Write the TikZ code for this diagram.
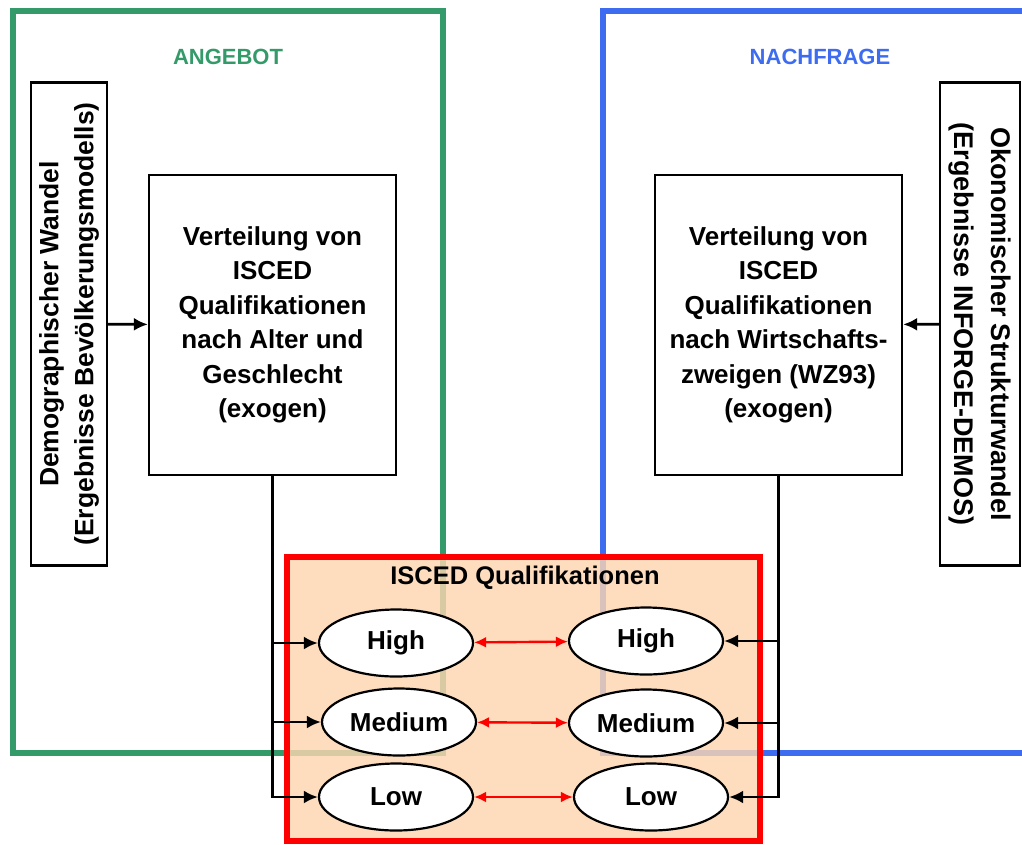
\documentclass[tikz,border=0pt]{standalone}
\usepackage{fontspec}
\setmainfont{Liberation Sans}
\usetikzlibrary{arrows.meta,shapes.geometric,calc}
\definecolor{angebot}{RGB}{53,154,106}
\definecolor{nachfrage}{RGB}{61,108,240}
\definecolor{qualfill}{RGB}{252,214,176}

\begin{document}
\begin{tikzpicture}[x=1pt,y=-1pt,
	box/.style={draw,line width=2.2pt,align=center,inner sep=0pt,font=\fontsize{26}{34.5}\selectfont\bfseries},
	qual/.style={ellipse,draw,line width=2.2pt,fill=white,minimum width=154pt,minimum height=67pt,inner sep=0pt,font=\fontsize{26}{30}\selectfont\bfseries},
	arr/.style={line width=2.8pt,-{Latex[length=14pt,width=13pt]}},
	redarr/.style={red,line width=2.4pt,{Latex[length=12pt,width=11pt]}-{Latex[length=12pt,width=11pt]}},
	title/.style={font=\fontsize{22}{26}\selectfont\bfseries}] %Angebot und Nachfrage
		\useasboundingbox (0,0) rectangle (1022,844);
		\draw[angebot,line width=6.5pt] (13,11) rectangle (443,753);
		\draw[nachfrage,line width=6.5pt] (1040,11) -- (603,11) -- (603,753) -- (1040,753);
		\node[title,text=angebot] (angebot) at (228,57) {ANGEBOT};
		\node[title,text=nachfrage] (nachfrage) at (820,57) {NACHFRAGE};
		% Treiber
		\node[box,rotate=90,minimum width=483pt,minimum height=76pt,font=\fontsize{26.5}{35}\selectfont\bfseries] (demo) at (69,324)
			{Demographischer Wandel\\(Ergebnisse Bevölkerungsmodells)};
		\node[box,rotate=-90,minimum width=483pt,minimum height=80pt,font=\fontsize{27}{37}\selectfont\bfseries] (oeko) at (980,324)
			{Okonomischer Strukturwandel\\(Ergebnisse INFORGE-DEMOS)};
		\node[box,minimum width=247pt,minimum height=300pt] (lq) at (272.5,325)
			{Verteilung von\\ISCED\\Qualifikationen\\nach Alter und\\Geschlecht\\(exogen)};
		\node[box,minimum width=247pt,minimum height=300pt] (rq) at (778.5,325)
			{Verteilung von\\ISCED\\Qualifikationen\\nach Wirtschafts-\\zweigen (WZ93)\\(exogen)};
		\draw[arr] (demo) -- (lq);
		\draw[arr] (oeko) -- (rq);
		% ISCED Qualifikationen
		\draw[red,line width=6pt,fill=qualfill,fill opacity=0.82] (287,557) rectangle (760,841);
		\node[title,font=\fontsize{25.5}{28}\selectfont\bfseries] (isced) at (525,578) {ISCED Qualifikationen};
		\node[qual] (highL) at (396,643) {High};
		\node[qual] (medL) at (399,722) {Medium};
		\node[qual] (lowL) at (396,797) {Low};
		\node[qual] (highR) at (646,641) {High};
		\node[qual] (medR) at (646,723) {Medium};
		\node[qual] (lowR) at (651,797) {Low};
		\draw[arr] (lq.south) |- (lowL);
		\draw[arr] (lq.south |- highL) -- (highL);
		\draw[arr] (lq.south |- medL) -- (medL);
		\draw[arr] (rq.south) |- (lowR);
		\draw[arr] (rq.south |- highR) -- (highR);
		\draw[arr] (rq.south |- medR) -- (medR);
		\draw[redarr] (highL) -- (highR);
		\draw[redarr] (medL) -- (medR);
		\draw[redarr] (lowL) -- (lowR);
\end{tikzpicture}
\end{document}
